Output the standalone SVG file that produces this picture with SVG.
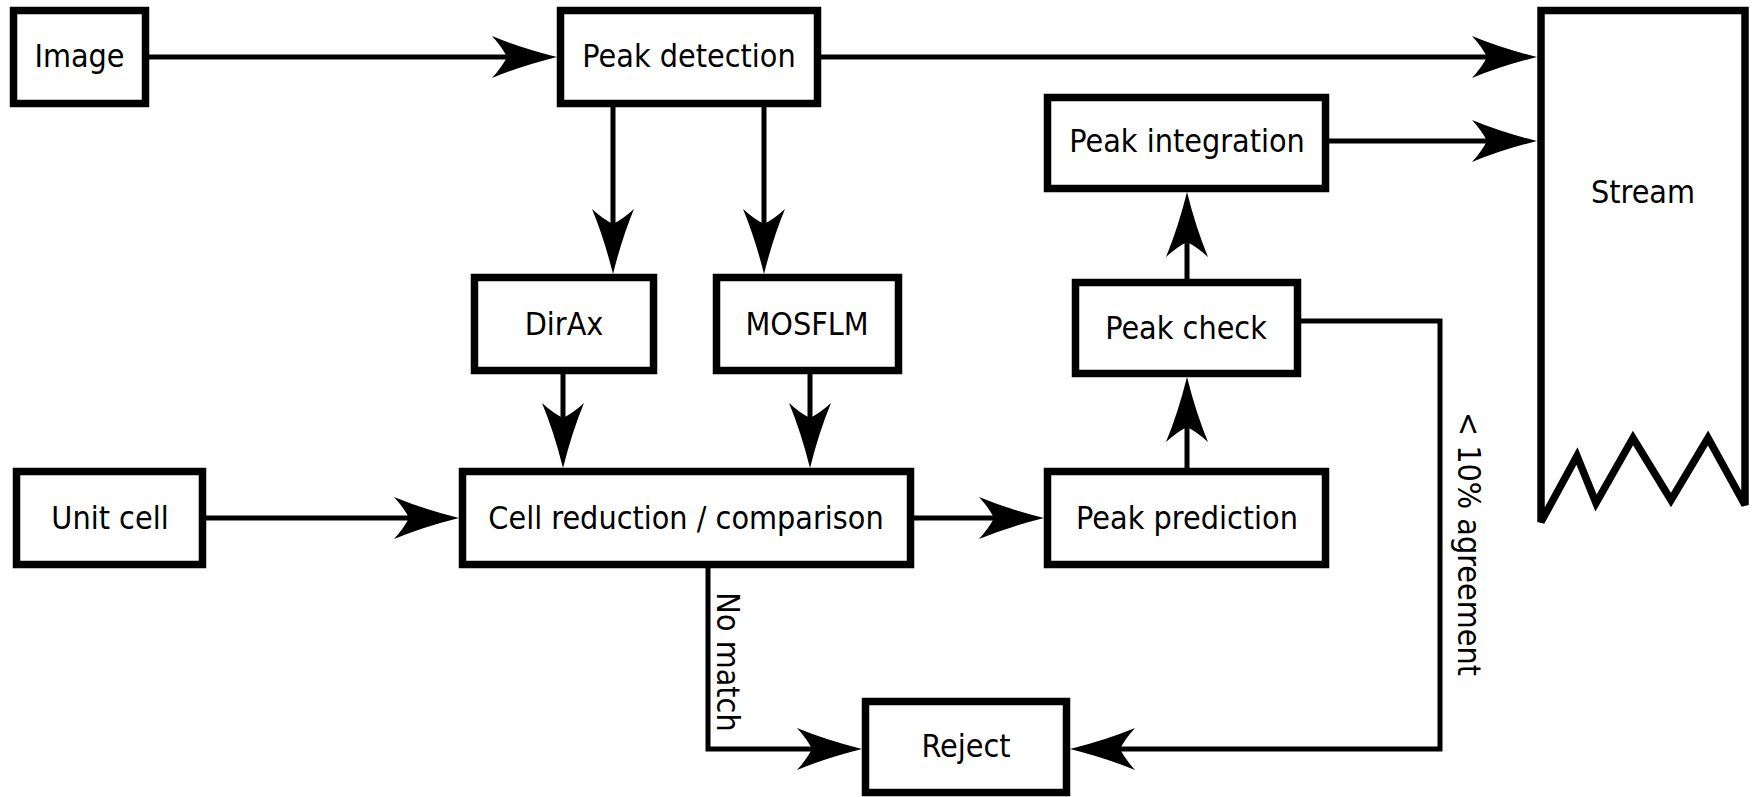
<svg xmlns="http://www.w3.org/2000/svg" width="1756" height="797" viewBox="0 0 1756 797">
<style>
.box{fill:#fff;stroke:#000;stroke-width:7.5}
.lbl{font-family:'DejaVu Sans Condensed','DejaVu Sans',sans-serif;font-stretch:condensed;font-size:32px;text-anchor:middle;fill:#000}
.edge{fill:none;stroke:#000;stroke-width:5;stroke-linejoin:miter;marker-end:url(#arr)}
</style>
<defs>
<marker id="arr" markerUnits="userSpaceOnUse" viewBox="-66 -23 68 46" markerWidth="68" markerHeight="46" refX="-50" refY="0" orient="auto">
<path d="M0,0 Q-36,-9 -65,-21 Q-55,-10 -50,0 Q-55,10 -65,21 Q-36,9 0,0 Z" fill="#000" stroke="none"/>
</marker>
</defs>
<rect width="1756" height="797" fill="#fff"/>
<g id="connectors">
<path class="edge" d="M149,57 H507"/>
<path class="edge" d="M821,57 H1487"/>
<path class="edge" d="M1329,141 H1487"/>
<path class="edge" d="M613,107 V224"/>
<path class="edge" d="M764,107 V224"/>
<path class="edge" d="M563,374 V418"/>
<path class="edge" d="M810,374 V418"/>
<path class="edge" d="M206,518 H409"/>
<path class="edge" d="M914,518 H994"/>
<path class="edge" d="M1187,468 V427"/>
<path class="edge" d="M1187,279 V242"/>
<path class="edge" d="M1301,321 H1440 V749 H1120"/>
<path class="edge" d="M708,568 V749 H812"/>
<text class="lbl" transform="translate(717,662) rotate(90)">No match</text>
<text class="lbl" transform="translate(1458,544) rotate(90)">&lt; 10% agreement</text>
</g>
<g id="image"><rect class="box" x="13.5" y="10.5" width="132" height="93"/><text class="lbl" x="79.5" y="67">Image</text></g>
<g id="peak-detection"><rect class="box" x="560.5" y="10.5" width="257" height="93"/><text class="lbl" x="689" y="67">Peak detection</text></g>
<g id="stream"><path class="box" d="M1541,10.5 H1745 V505 L1708,438 L1671,500 L1633,438 L1596,503 L1577,456 L1541,522 Z" stroke-linejoin="miter"/><text class="lbl" x="1643" y="203">Stream</text></g>
<g id="peak-integration"><rect class="box" x="1047.5" y="97.5" width="278" height="91"/><text class="lbl" x="1187" y="152">Peak integration</text></g>
<g id="dirax"><rect class="box" x="474.5" y="277.5" width="179" height="93"/><text class="lbl" x="564" y="335">DirAx</text></g>
<g id="mosflm"><rect class="box" x="716.5" y="277.5" width="182" height="93"/><text class="lbl" x="807" y="335">MOSFLM</text></g>
<g id="peak-check"><rect class="box" x="1075.5" y="282.5" width="222" height="91"/><text class="lbl" x="1186" y="339">Peak check</text></g>
<g id="unit-cell"><rect class="box" x="16.5" y="471.5" width="186" height="93"/><text class="lbl" x="110" y="529">Unit cell</text></g>
<g id="cell-reduction"><rect class="box" x="462.5" y="471.5" width="448" height="93"/><text class="lbl" x="686" y="529">Cell reduction / comparison</text></g>
<g id="peak-prediction"><rect class="box" x="1047.5" y="471.5" width="278" height="93"/><text class="lbl" x="1187" y="529">Peak prediction</text></g>
<g id="reject"><rect class="box" x="865.5" y="701.5" width="201" height="91"/><text class="lbl" x="966" y="757">Reject</text></g>
</svg>
